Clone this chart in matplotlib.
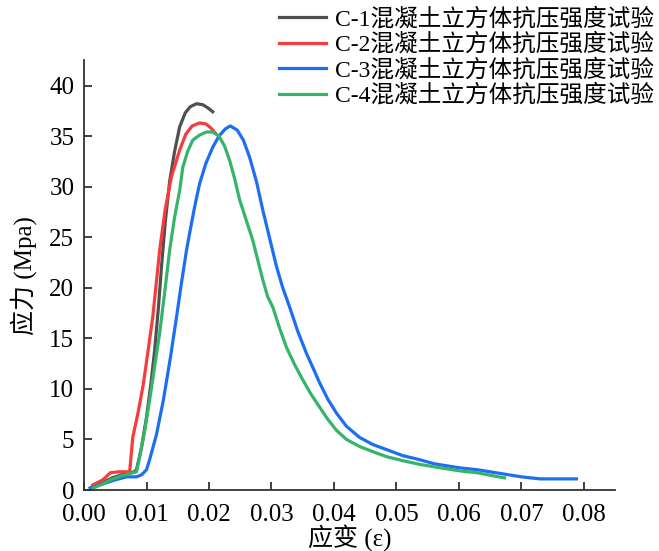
import matplotlib
matplotlib.use('Agg')
import matplotlib.pyplot as plt

plt.rcParams['font.family'] = ['Liberation Serif', 'Noto Sans CJK SC']
plt.rcParams['axes.unicode_minus'] = False

# C-1 应变 / 应力
c1_x = [0.0010, 0.0025, 0.0045, 0.0065, 0.0080, 0.0084, 0.0092, 0.0100, 0.0107, 0.0113,
        0.0119, 0.0124, 0.0130, 0.0137, 0.0145, 0.0153, 0.0162, 0.0170, 0.0180, 0.0190,
        0.0198, 0.0206]
c1_y = [0.2, 0.6, 1.2, 1.6, 1.8, 2.0, 4.2, 7.2, 10.5, 13.8,
        18.0, 22.1, 26.5, 30.5, 33.5, 35.9, 37.3, 37.9, 38.2, 38.1,
        37.8, 37.4]

# C-2
c2_x = [0.0014, 0.0030, 0.0042, 0.0055, 0.0073, 0.0078, 0.0087, 0.0095, 0.0103, 0.0110,
        0.0121, 0.0130, 0.0140, 0.0153, 0.0163, 0.0173, 0.0185, 0.0195, 0.0203, 0.0210]
c2_y = [0.5, 1.0, 1.7, 1.8, 1.8, 5.2, 7.8, 10.5, 14.0, 17.1,
        23.7, 27.8, 31.0, 33.6, 35.2, 36.0, 36.3, 36.2, 35.8, 35.3]

# C-3
c3_x = [0.0010, 0.0030, 0.0050, 0.0068, 0.0084, 0.0092, 0.0100, 0.0105, 0.0116, 0.0127,
        0.0138, 0.0148, 0.0156, 0.0164, 0.0169, 0.0177, 0.0185, 0.0195, 0.0206, 0.0216,
        0.0226, 0.0234, 0.0245, 0.0255, 0.0265, 0.0276, 0.0286, 0.0297, 0.0308, 0.0318,
        0.0329, 0.0342, 0.0356, 0.0367, 0.0377, 0.0390, 0.0404, 0.0420, 0.0441, 0.0462,
        0.0484, 0.0510, 0.0537, 0.0560, 0.0600, 0.0630, 0.0650, 0.0680, 0.0700, 0.0730,
        0.0760, 0.0788]
c3_y = [0.2, 0.6, 1.0, 1.3, 1.3, 1.5, 2.0, 3.0, 5.5, 8.9,
        13.0, 17.1, 20.5, 23.7, 25.4, 28.0, 30.3, 32.3, 33.9, 35.0,
        35.7, 36.0, 35.6, 34.6, 32.9, 30.5, 27.7, 24.9, 22.1, 20.0,
        18.1, 15.7, 13.5, 12.0, 10.6, 9.0, 7.6, 6.3, 5.2, 4.5,
        4.0, 3.4, 3.0, 2.6, 2.2, 2.0, 1.8, 1.5, 1.3, 1.1,
        1.1, 1.1]

# C-4
c4_x = [0.0015, 0.0030, 0.0042, 0.0060, 0.0084, 0.0089, 0.0097, 0.0105, 0.0113, 0.0121,
        0.0129, 0.0137, 0.0145, 0.0153, 0.0158, 0.0166, 0.0174, 0.0185, 0.0196, 0.0206,
        0.0216, 0.0225, 0.0233, 0.0241, 0.0249, 0.0260, 0.0270, 0.0286, 0.0294, 0.0302,
        0.0313, 0.0324, 0.0337, 0.0350, 0.0363, 0.0377, 0.0390, 0.0404, 0.0420, 0.0441,
        0.0462, 0.0484, 0.0510, 0.0540, 0.0570, 0.0600, 0.0630, 0.0655, 0.0673]
c4_y = [0.2, 0.6, 1.0, 1.4, 1.8, 3.3, 5.8, 8.9, 12.2, 15.5,
        19.5, 23.7, 27.0, 29.6, 31.9, 33.5, 34.6, 35.1, 35.4, 35.4,
        35.0, 34.0, 32.6, 30.8, 28.7, 26.6, 24.7, 20.8, 19.1, 18.1,
        16.0, 14.1, 12.4, 10.9, 9.5, 8.2, 7.0, 5.9, 5.0, 4.3,
        3.8, 3.3, 2.9, 2.5, 2.2, 1.9, 1.7, 1.4, 1.2]

labels = ['C-1混凝土立方体抗压强度试验', 'C-2混凝土立方体抗压强度试验',
          'C-3混凝土立方体抗压强度试验', 'C-4混凝土立方体抗压强度试验']
colors = ['#505050', '#f63c3c', '#1e6ff0', '#35b46a']

fig = plt.figure(figsize=(6.59, 5.51), dpi=100)
ax = fig.add_axes([0.1275, 0.1107, 0.806, 0.78])

for xs, ys, lab, col in zip([c1_x, c2_x, c3_x, c4_x], [c1_y, c2_y, c3_y, c4_y], labels, colors):
    ax.plot(xs, ys, color=col, lw=2.3, label=lab)

ax.set_xlim(0, 0.085)
ax.set_ylim(0, 42.5)
ax.set_xticks([0.00, 0.01, 0.02, 0.03, 0.04, 0.05, 0.06, 0.07, 0.08])
ax.set_xticklabels(['0.00', '0.01', '0.02', '0.03', '0.04', '0.05', '0.06', '0.07', '0.08'])
ax.set_yticks(range(0, 41, 5))
ax.spines['top'].set_visible(False)
ax.spines['right'].set_visible(False)
for s in ['left', 'bottom']:
    ax.spines[s].set_linewidth(1.3)
    ax.spines[s].set_color('#333333')
ax.tick_params(direction='in', length=6, width=1.3, labelsize=18, colors='#333333', labelcolor='black')
ax.tick_params(axis='x', pad=10)
ax.tick_params(axis='y', pad=7)
ax.set_xlabel('应变 (ε)', fontsize=18, labelpad=-1)
ax.set_ylabel('应力 (Mpa)', fontsize=18, labelpad=9)

ax.legend(loc='upper right', bbox_to_anchor=(1.0, 0.995), bbox_transform=fig.transFigure,
          frameon=False, fontsize=17, handlelength=2.0, labelspacing=0.12,
          handletextpad=0.4, borderaxespad=0.0, borderpad=0.2)

fig.savefig('out.png', dpi=100)
